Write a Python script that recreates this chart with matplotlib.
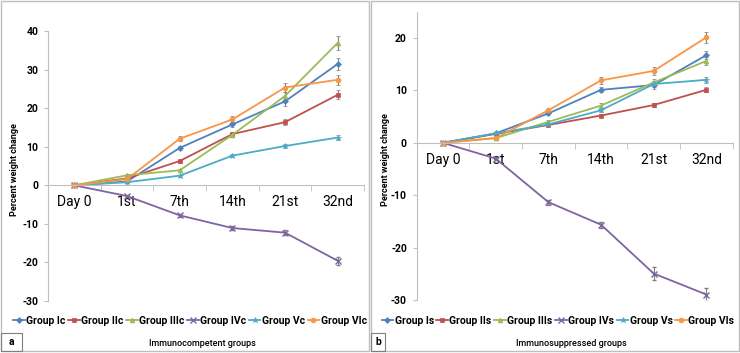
import matplotlib.pyplot as plt
from matplotlib.patches import Rectangle
from matplotlib.lines import Line2D

plt.rcParams['font.family'] = ['Roboto', 'DejaVu Sans']

days = ['Day 0', '1st', '7th', '14th', '21st', '32nd']

# immunocompetent groups (panel a)
grp_c = ['Group Ic', 'Group IIc', 'Group IIIc', 'Group IVc', 'Group Vc', 'Group VIc']
ic   = [0, 1.0, 9.7, 15.8, 21.8, 31.5]
iic  = [0, 1.8, 6.3, 13.3, 16.4, 23.5]
iiic = [0, 2.6, 3.9, 13.1, 23.2, 37.0]
ivc  = [0, -2.8, -7.8, -11.1, -12.3, -19.6]
vc   = [0, 0.8, 2.5, 7.7, 10.2, 12.4]
vic  = [0, 1.6, 12.1, 17.1, 25.4, 27.4]
ic_err   = [0, 0.3, 0.5, 0.7, 1.1, 1.5]
iic_err  = [0, 0.3, 0.4, 0.6, 0.8, 1.2]
iiic_err = [0, 0.3, 0.4, 0.6, 1.0, 1.9]
ivc_err  = [0, 0.3, 0.4, 0.5, 0.6, 1.0]
vc_err   = [0, 0.2, 0.3, 0.4, 0.5, 0.7]
vic_err  = [0, 0.3, 0.6, 0.8, 1.2, 1.3]

# immunosuppressed groups (panel b)
grp_s = ['Group Is', 'Group IIs', 'Group IIIs', 'Group IVs', 'Group Vs', 'Group VIs']
is_   = [0, 1.8, 5.6, 10.1, 11.0, 16.7]
iis   = [0, 1.7, 3.4, 5.2, 7.2, 10.1]
iiis  = [0, 0.9, 4.0, 7.1, 11.5, 15.6]
ivs   = [0, -3.0, -11.3, -15.6, -24.9, -28.9]
vs    = [0, 1.8, 3.5, 6.2, 11.2, 12.0]
vis   = [0, 0.9, 6.2, 11.9, 13.7, 20.1]
is_err   = [0, 0.2, 0.3, 0.5, 0.7, 0.8]
iis_err  = [0, 0.2, 0.2, 0.3, 0.3, 0.5]
iiis_err = [0, 0.2, 0.3, 0.4, 0.6, 0.7]
ivs_err  = [0, 0.3, 0.5, 0.6, 1.3, 1.3]
vs_err   = [0, 0.2, 0.3, 0.4, 0.5, 0.6]
vis_err  = [0, 0.2, 0.3, 0.6, 0.8, 1.0]

colors  = ['#4F81BD', '#C0504D', '#9BBB59', '#8064A2', '#4BACC6', '#F79646']
markers = ['D', 's', '^', 'x', '*', 'o']
msizes  = [3, 3.5, 3.5, 4, 4, 3.5]

fig = plt.figure(figsize=(7.4, 3.53), dpi=100)


def panel(rect, series, errs, names, ylim, yticks, xtitle, tag, box_x, tag_w,
          ylab_x, ylab_y, leg_x):
    ax = fig.add_axes(rect)
    x = list(range(len(days)))
    handles = []
    for s, e, n, c, m, ms in zip(series, errs, names, colors, markers, msizes):
        mew = 1.0 if m == 'x' else 0.5
        ax.errorbar(x, s, yerr=e, color=c, marker=m, markersize=ms, lw=1.3,
                    ecolor='#7f7f7f', elinewidth=0.8, capsize=1.5, markeredgewidth=mew)
        handles.append(Line2D([], [], color=c, marker=m, markersize=ms, lw=1.3,
                              markeredgewidth=mew, label=n))
    ax.set_xlim(-0.5, 5.5)
    ax.set_ylim(*ylim)
    ax.set_yticks(yticks)
    ax.set_yticklabels([str(t) for t in yticks], fontsize=7.5, fontweight='bold')
    ax.set_xticks(x)
    ax.set_xticklabels(days, fontsize=7.5, fontweight='bold')
    ax.set_xticks([i - 0.5 for i in range(7)], minor=True)
    ax.tick_params(axis='x', which='major', length=0, pad=7)
    ax.tick_params(axis='x', which='minor', length=4, color='#bfbfbf')
    ax.tick_params(axis='y', length=3, color='#bfbfbf', pad=4)
    for sp in ['top', 'right']:
        ax.spines[sp].set_visible(False)
    ax.spines['bottom'].set_position(('data', 0))
    ax.spines['bottom'].set_color('#bfbfbf')
    ax.spines['left'].set_color('#bfbfbf')
    leg = fig.legend(handles=handles, loc='center',
                     bbox_to_anchor=(leg_x / 740, 1 - 321 / 353),
                     ncol=6, frameon=False, fontsize=7.5, handlelength=1.1,
                     handletextpad=0.15, columnspacing=0.25, borderaxespad=0)
    for t in leg.get_texts():
        t.set_fontweight('bold')
    fig.text(ylab_x, ylab_y, 'Percent weight change', rotation=90, ha='center',
             va='center', fontsize=6.5, fontweight='bold')
    # panel frame
    fig.add_artist(Rectangle((box_x[0] / 740, 2 / 353), (box_x[1] - box_x[0]) / 740, 350 / 353,
                             transform=fig.transFigure, fill=False, ec='#bfbfbf', lw=1))
    fig.add_artist(Rectangle((box_x[0] / 740, 2 / 353), tag_w / 740, 18 / 353,
                             transform=fig.transFigure, fill=False, ec='#7f7f7f', lw=0.8))
    fig.text((box_x[0] + tag_w / 2) / 740, 11 / 353, tag, ha='center', va='center',
             fontsize=7.5, fontweight='bold')
    fig.text(rect[0] + rect[2] / 2 - 0.005, 9 / 353, xtitle, ha='center', va='center',
             fontsize=6.5, fontweight='medium')
    return ax


panel([48 / 740, 52.2 / 353, 316 / 740, 269.5 / 353],
      [ic, iic, iiic, ivc, vc, vic],
      [ic_err, iic_err, iiic_err, ivc_err, vc_err, vic_err],
      grp_c, (-30, 40), [-30, -20, -10, 0, 10, 20, 30, 40],
      'Immunocompetent groups', 'a', (1, 369), 21, 15 / 740, 1 - 170 / 353, 190)

panel([416.7 / 740, 52.7 / 353, 316 / 740, 288.7 / 353],
      [is_, iis, iiis, ivs, vs, vis],
      [is_err, iis_err, iiis_err, ivs_err, vs_err, vis_err],
      grp_s, (-30, 25), [-30, -20, -10, 0, 10, 20],
      'Immunosuppressed groups', 'b', (371, 739), 14, 385 / 740, 1 - 160 / 353, 558)

fig.savefig('out.png', dpi=100, facecolor='white')
